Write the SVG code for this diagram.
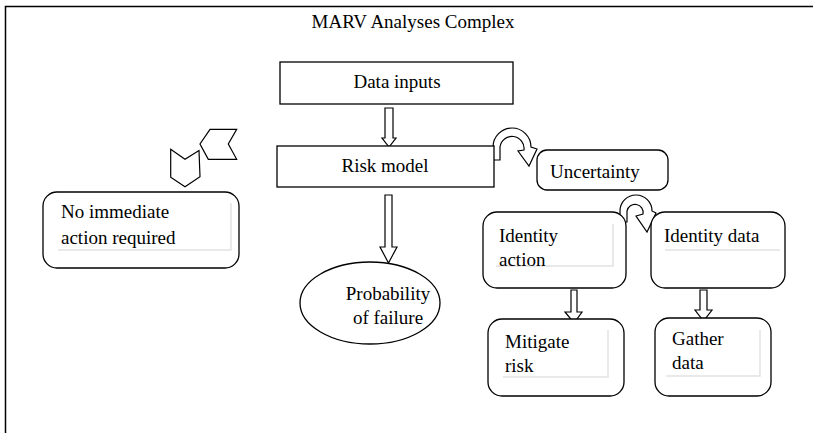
<svg xmlns="http://www.w3.org/2000/svg" width="813" height="433" viewBox="0 0 813 433">
<style>
.t{font-family:"Liberation Serif","Times New Roman",serif;font-size:19px;fill:#000}
.b{fill:#fff;stroke:#000;stroke-width:1.3}
.s{fill:#fff;stroke:#000;stroke-width:1.2;stroke-linejoin:miter}
.g{fill:none;stroke:#e2e2e2;stroke-width:1.5}
</style>
<rect x="0" y="0" width="813" height="433" fill="#fff"/>
<path d="M5.5 433 V6.5 H813" fill="none" stroke="#000" stroke-width="1.5"/>
<text class="t" x="413" y="28" text-anchor="middle" font-size="21">MARV Analyses Complex</text>

<g id="connectors">
<path class="s" d="M385 108 H393 V138 H396 L389 147 L382 138 H385 Z"/>
<path class="s" d="M385 195 H392 V247 H397 L388.5 263 L380 247 H385 Z"/>
<path class="s" d="M571 290 H577 V312 H582 L574 323 L565 312 H571 Z"/>
<path class="s" d="M700 290 H707 V310 H712 L703.5 321 L695 310 H700 Z"/>
<path class="s" d="M493 160 V147 A19 19 0 0 1 531 147 L537 149 L529 166 L518 151 L524 150 A12 12 0 0 0 500 147 V160 Z"/>
<path class="s" d="M620 222 V211 A16 16 0 0 1 652 211 L656 213 L647 232 L636 216 L643 214 A8 8 0 0 0 627 211 V222 Z"/>
</g>

<g id="chevron-down">
<path class="s" d="M170.7 149.3 L185 159.3 L199 150.5 L200 176.7 L185 186.7 L170.7 177.3 Z"/>
</g>
<g id="chevron-left">
<path class="s" d="M210 129.3 L236.7 129.3 L228.3 144 L236.7 159.3 L208.3 159.3 L200 144 Z"/>
</g>

<g id="data-inputs">
<rect class="b" x="280" y="62" width="233" height="42"/>
<text class="t" x="397" y="88" text-anchor="middle">Data inputs</text>
</g>
<g id="risk-model">
<rect class="b" x="277" y="146" width="217" height="41"/>
<text class="t" x="385" y="172" text-anchor="middle">Risk model</text>
</g>
<g id="uncertainty">
<rect class="b" x="537" y="150" width="131" height="40" rx="10"/>
<text class="t" x="550" y="178">Uncertainty</text>
</g>
<g id="no-action">
<rect class="b" x="43" y="192" width="196" height="76" rx="14"/>
<path class="g" d="M231 203 V250 H58"/>
<text class="t" x="61" y="218">No immediate</text>
<text class="t" x="61" y="244">action required</text>
</g>
<g id="probability">
<ellipse class="b" cx="370" cy="303" rx="70" ry="41"/>
<text class="t" x="388" y="300" text-anchor="middle">Probability</text>
<text class="t" x="388" y="324" text-anchor="middle">of failure</text>
</g>
<g id="identity-action">
<rect class="b" x="483" y="212" width="143" height="76" rx="14"/>
<path class="g" d="M613 224 V266 H496"/>
<text class="t" x="499" y="242">Identity</text>
<text class="t" x="499" y="266">action</text>
</g>
<g id="identity-data">
<rect class="b" x="651" y="212" width="134" height="76" rx="14"/>
<path class="g" d="M665 250 H780"/>
<text class="t" x="664" y="242">Identity data</text>
</g>
<g id="mitigate-risk">
<rect class="b" x="488" y="319" width="136" height="77" rx="14"/>
<path class="g" d="M608 330 V377 H503"/>
<text class="t" x="505" y="348">Mitigate</text>
<text class="t" x="505" y="372">risk</text>
</g>
<g id="gather-data">
<rect class="b" x="655" y="318" width="116" height="78" rx="14"/>
<path class="g" d="M760 330 V376 H666"/>
<text class="t" x="672" y="345">Gather</text>
<text class="t" x="672" y="369">data</text>
</g>
</svg>
